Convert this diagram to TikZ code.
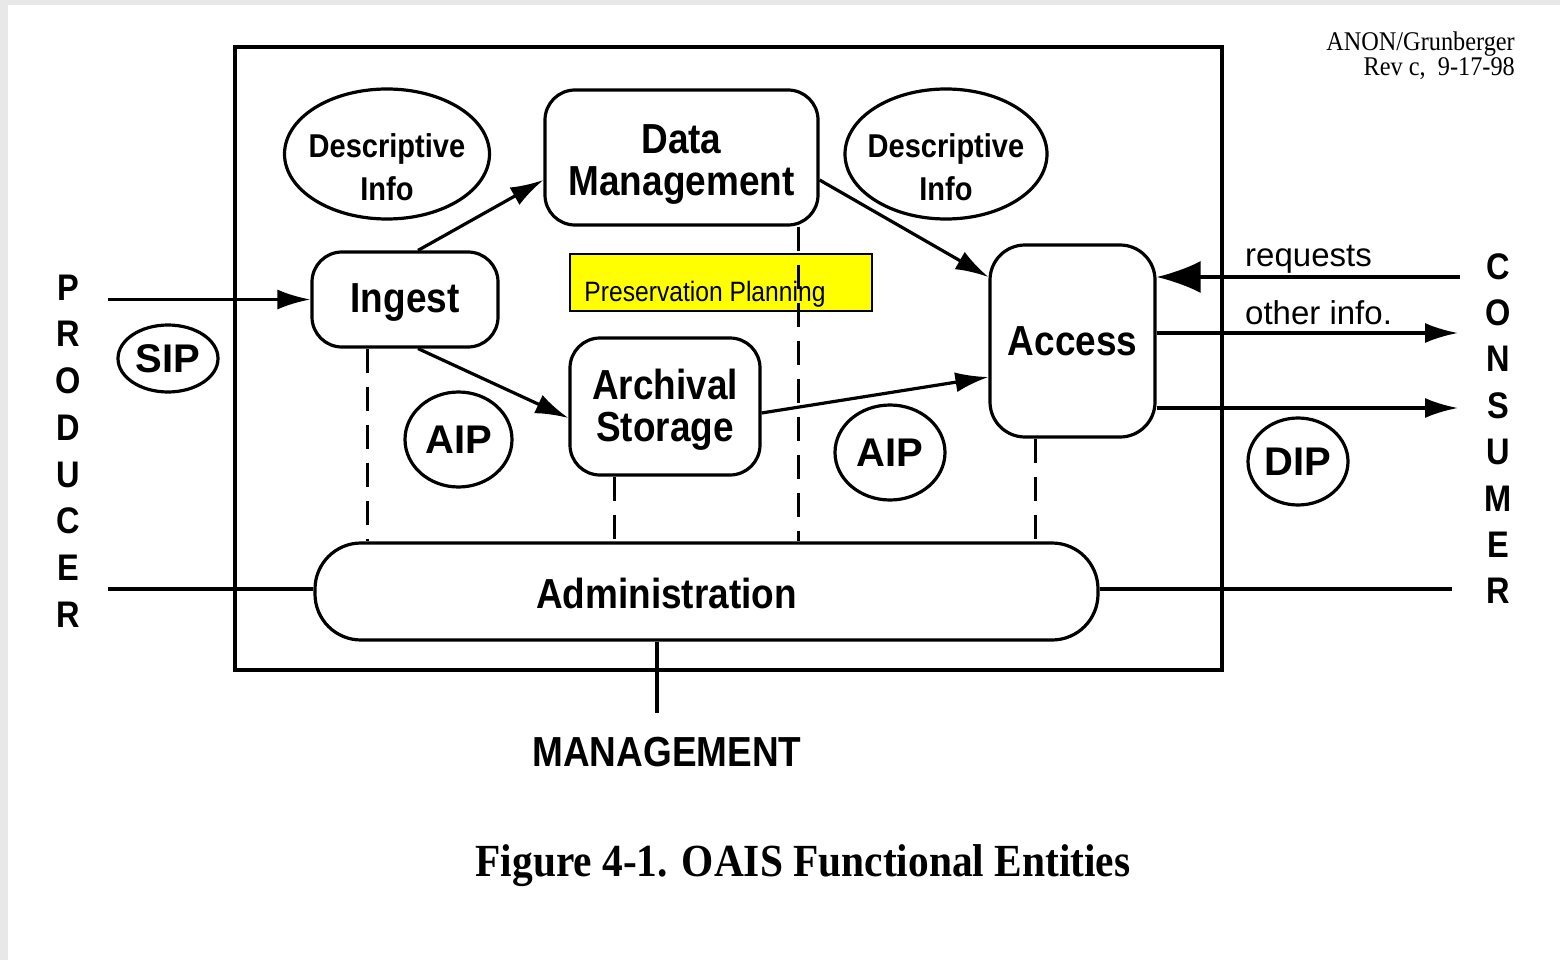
\documentclass[tikz,border=0pt]{standalone}
\usepackage{fontspec}
\setmainfont{Liberation Sans}
\newfontfamily\nsans{Liberation Sans}[FakeStretch=0.88]
\newfontfamily\ntimes{Liberation Serif}[FakeStretch=0.9]
\usetikzlibrary{arrows.meta,shapes.geometric}
\definecolor{paneGray}{HTML}{E8E8E8}
\definecolor{ppYellow}{HTML}{FFFF00}
\begin{document}
\begin{tikzpicture}[x=1pt,y=-1pt,
  proc/.style={draw, line width=3.2pt, rounded corners=30pt, align=center, inner sep=0pt,
    font=\nsans\bfseries\fontsize{42}{42.5}\selectfont},
  proctext/.style={align=center, font=\nsans\bfseries\fontsize{42}{42.5}\selectfont},
  info/.style={draw, ellipse, line width=3.2pt, inner sep=0pt, align=center},
  pkg/.style={font=\bfseries\fontsize{40}{42}\selectfont},
  flow/.style={-{Latex[length=33pt,width=20pt]}, line width=3.2pt},
  link/.style={line width=3.2pt},
  ctrl/.style={line width=3pt, dash pattern=on 24pt off 14pt},
  vert/.style={align=center, inner sep=0pt, font=\nsans\bfseries\fontsize{37}{46.7}\selectfont},
]
\useasboundingbox (0,0) rectangle (1560,960);
\fill[paneGray] (0,0) rectangle (1560,960);
\fill[white] (8,5) rectangle (1560,960);

% system boundary
\node[draw, line width=3.6pt, minimum width=987pt, minimum height=623pt, inner sep=0pt] (oais) at (728.5,358.5) {};

% functional entities
\node[proc, minimum width=186pt, minimum height=95pt,
  label={[proctext, yshift=-3pt]center:Ingest}] (ingest) at (405,299.5) {};
\node[proc, minimum width=273pt, minimum height=135pt,
  label={[proctext, yshift=-7pt]center:Data\\Management}] (dm) at (681.5,157.5) {};
\node[proc, minimum width=190pt, minimum height=137pt,
  label={[proctext, yshift=-3pt, font=\nsans\bfseries\fontsize{42}{42}\selectfont]center:Archival\\Storage}] (arch) at (665,406.5) {};
\node[proc, rounded corners=35pt, minimum width=165pt, minimum height=192pt,
  label={[proctext]center:Access}] (access) at (1072.5,341) {};
\node[proc, rounded corners=46pt, minimum width=783pt, minimum height=97pt,
  label={[proctext, xshift=-40pt, yshift=-2pt]center:Administration}] (admin) at (706.5,591.5) {};
\node[draw, fill=ppYellow, line width=1.5pt, minimum width=302pt, minimum height=57pt, inner sep=0pt,
  label={[anchor=base west, inner sep=0pt, xshift=15pt, yshift=-18.5pt, font=\nsans\fontsize{28}{30}\selectfont]west:Preservation Planning}] (pp) at (721,282.5) {};

% descriptive info ellipses
\node[info, minimum width=205pt, minimum height=130pt,
  label={[yshift=-13pt, align=center, font=\nsans\bfseries\fontsize{33}{43}\selectfont]center:Descriptive\\Info}] (desc1) at (387,154) {};
\node[info, minimum width=202pt, minimum height=130pt,
  label={[yshift=-13pt, align=center, font=\nsans\bfseries\fontsize{33}{43}\selectfont]center:Descriptive\\Info}] (desc2) at (946,154) {};

% packages
\node[info, pkg, minimum width=100pt, minimum height=67pt] (sip) at (168,358.5) {SIP};
\node[info, pkg, minimum width=107pt, minimum height=95pt] (aip1) at (458.5,439.5) {AIP};
\node[info, pkg, minimum width=110pt, minimum height=95pt] (aip2) at (890,452.5) {AIP};
\node[info, pkg, minimum width=100pt, minimum height=87pt] (dip) at (1298,461.5) {DIP};

% external entities
\node[vert] (producer) at (68,451) {P\\R\\O\\D\\U\\C\\E\\R};
\node[vert, font=\nsans\bfseries\fontsize{37}{46.4}\selectfont] (consumer) at (1498,428.5) {C\\O\\N\\S\\U\\M\\E\\R};
\node[font=\nsans\bfseries\fontsize{42}{44}\selectfont] (mgmt) at (667,752) {MANAGEMENT};

% flow labels
\node[anchor=base west, inner sep=0pt, font=\fontsize{33}{36}\selectfont] (reqlab) at (1245,266) {requests};
\node[anchor=base west, inner sep=0pt, font=\fontsize{33}{36}\selectfont] (othlab) at (1245,324) {other info.};

% stamp and caption
\node[anchor=north east, align=right, inner sep=0pt, font=\ntimes\fontsize{27}{25}\selectfont] (stamp) at (1515,32) {ANON/Grunberger\\Rev c,\ \ 9-17-98};
\node[font=\ntimes\bfseries\fontsize{46}{48}\selectfont] (caption) at (803,866) {Figure 4-1. OAIS Functional Entities};

% free ends
\coordinate (prodin) at (108,299.5);
\coordinate (prodadm) at (108,589);
\coordinate (consadm) at (1452,589);
\coordinate (reqend) at (1460,277);
\coordinate (othend) at (1458,333);
\coordinate (dipend) at (1458,408);
\coordinate (mtop) at (657,713);
\coordinate (d1) at (367,0);
\coordinate (d2) at (614,0);
\coordinate (d3) at (798,0);
\coordinate (d4) at (1035,0);

% control (dashed) links
\draw[ctrl] (ingest.south -| d1) -- (admin.north -| d1);
\draw[ctrl] (arch.south -| d2) -- (admin.north -| d2);
\draw[ctrl] (dm.south -| d3) -- (admin.north -| d3);
\draw[ctrl] (access.south -| d4) -- (admin.north -| d4);

% data flows
\draw[flow] (prodin) -- (ingest.west);
\draw[flow] ([xshift=13pt]ingest.north) -- ([yshift=-22.5pt]dm.west);
\draw[flow] ([xshift=13pt]ingest.south) -- ([yshift=-11.5pt]arch.west);
\draw[flow] ([yshift=-6.5pt]arch.east) -- ([yshift=-36pt]access.west);
\draw[flow] ([yshift=-22.5pt]dm.east) -- ([yshift=64pt]access.west);
\draw[link, -{Latex[length=44pt,width=32pt]}] (reqend) -- (reqend -| access.east);
\draw[flow] (access.east |- othend) -- (othend);
\draw[flow] (access.east |- dipend) -- (dipend);

% administration links
\draw[link] (prodadm) -- (prodadm -| admin.west);
\draw[link] (admin.east |- consadm) -- (consadm);
\draw[link] (admin.south -| mtop) -- (mtop);
\end{tikzpicture}
\end{document}
